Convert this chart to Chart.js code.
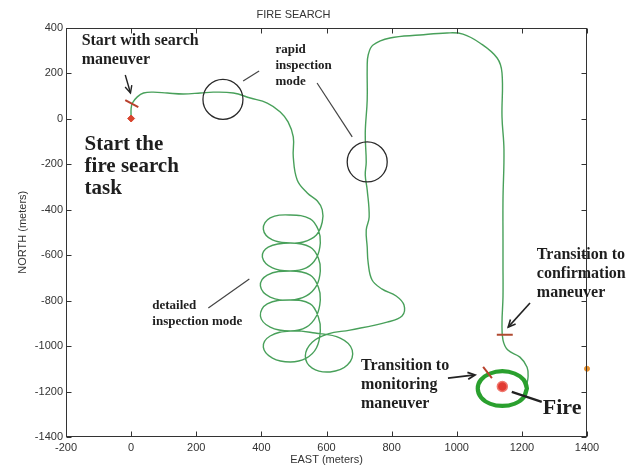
<!DOCTYPE html>
<html>
<head>
<meta charset="utf-8">
<script src="https://cdn.jsdelivr.net/npm/chart.js@4/dist/chart.umd.min.js"></script>
<style>
  html, body { margin: 0; padding: 0; background: #fff; }
  #wrap { width: 641px; height: 468px; }
</style>
</head>
<body>
<div id="wrap"><canvas id="c" width="641" height="468"></canvas></div>
<script>
// Axis ticks (meters)
const eastTicks  = [-200, 0, 200, 400, 600, 800, 1000, 1200, 1400];
const northTicks = [-1400, -1200, -1000, -800, -600, -400, -200, 0, 200, 400];

// Flight track: start, search leg, detailed-inspection loops, long search leg, confirmation approach
const pathEast = [
  0, 0, 4, 19, 38, 68, 111, 160, 213, 252, 314, 366, 418, 458, 482, 498, 498, 510, 541, 572, 587, 587, 569,
  529, 489, 434, 406, 427, 489,
  550, 575, 581, 569, 538, 489, 434, 403, 421,
  489, 550, 575, 581, 569, 538, 489, 427, 397, 418,
  489, 550, 575, 581, 569, 538, 489, 427, 397, 418,
  489, 550, 575, 581, 569, 538, 489, 434, 406, 427,
  489, 565, 642, 679, 664, 611, 556, 535, 556, 605, 672, 786, 832, 838, 814, 771, 740,
  728, 725, 722, 731, 725, 719, 722, 719, 725, 725, 728, 743, 795, 887, 970, 1019, 1071, 1124, 1139, 1139,
  1145, 1142, 1142, 1142, 1142, 1139, 1142, 1157, 1194, 1216, 1219, 1213
];
const pathNorth = [
  0, 45, 68, 95, 112, 116, 112, 108, 112, 116, 112, 90, 68, 29, -15, -81, -169, -270, -327, -363, -402, -455, -512,
  -543, -547, -534, -486, -437, -424,
  -441, -490, -547, -613, -657, -670, -657, -609, -565,
  -547, -565, -613, -670, -736, -780, -798, -785, -736, -688,
  -670, -688, -741, -798, -868, -917, -934, -917, -868, -815,
  -798, -815, -873, -934, -1009, -1053, -1070, -1053, -1005, -956,
  -934, -943, -965, -1018, -1084, -1114, -1097, -1044, -983, -947, -930, -895, -868, -820, -780, -750, -710,
  -635, -565, -490, -433, -314, -248, -191, -64, 81, 226, 279, 323, 354, 367, 376, 371, 332, 266, 200, 7,
  -138, -358, -534, -635, -785, -899, -974, -1018, -1049, -1093, -1136, -1180
];

// Monitoring orbit around the fire (two laps)
const orbitEast = [
  1218, 1208, 1179, 1140, 1101, 1072, 1062, 1072, 1101, 1140, 1179, 1208, 1218,
  1213, 1203, 1176, 1140, 1104, 1077, 1067, 1077, 1104, 1140, 1176, 1203, 1213
];
const orbitNorth = [
  -1187, -1227, -1256, -1267, -1256, -1227, -1187, -1147, -1118, -1107, -1118, -1147, -1187,
  -1187, -1224, -1251, -1260, -1251, -1224, -1187, -1150, -1123, -1114, -1123, -1150, -1187
];

// Rapid-inspection circles (centres)
const rapidEast  = [282, 725];
const rapidNorth = [84, -191];

// Maneuver transition marks (two ends each)
const startMarkEast    = [-18, 22];
const startMarkNorth   = [81, 50];
const confirmMarkEast  = [1123, 1172];
const confirmMarkNorth = [-951, -951];
const monitorMarkEast  = [1081, 1108];
const monitorMarkNorth = [-1092, -1141];

// Points of interest
const startPoint = [0, 0];
const firePoint  = [1140, -1178];
const edgePoint  = [1400, -1100];

const zip = (xs, ys) => xs.map((v, i) => ({ x: v, y: ys[i] }));

// Callouts: leader lines / arrows and labels, placed in map coordinates
const callouts = [
  { from: [-18, 191],  to: [-2, 112],     arrow: true,  width: 1.4, color: '#222' },
  { from: [344, 165],  to: [393, 209],    arrow: false, width: 1.2, color: '#444' },
  { from: [571, 156],  to: [679, -81],    arrow: false, width: 1.2, color: '#444' },
  { from: [237, -833], to: [363, -706],   arrow: false, width: 1.2, color: '#444' },
  { from: [1225, -811], to: [1158, -917], arrow: true,  width: 1.6, color: '#222' },
  { from: [973, -1141], to: [1056, -1127], arrow: true, width: 1.8, color: '#222' },
  { from: [1169, -1202], to: [1261, -1246], arrow: false, width: 2.4, color: '#222' }
];
const labels = [
  { lines: ['Start with search', 'maneuver'], at: [-152, 341], size: 16, gap: 19 },
  { lines: ['Start the', 'fire search', 'task'], at: [-143, -116], size: 21, gap: 22 },
  { lines: ['rapid', 'inspection', 'mode'], at: [443, 301], size: 13, gap: 16 },
  { lines: ['detailed', 'inspection mode'], at: [65, -824], size: 13, gap: 16 },
  { lines: ['Transition to', 'confirmation', 'maneuver'], at: [1246, -600], size: 16, gap: 19 },
  { lines: ['Transition to', 'monitoring', 'maneuver'], at: [706, -1088], size: 16, gap: 19 },
  { lines: ['Fire'], at: [1264, -1273], size: 22, gap: 22 }
];

const frameAndCallouts = {
  id: 'frameAndCallouts',
  afterDatasetsDraw(chart) {
    const { ctx, chartArea: a, scales: { x, y } } = chart;
    const P = (e, n) => [x.getPixelForValue(e), y.getPixelForValue(n)];
    ctx.save();

    // plot box with inward ticks on all four sides
    ctx.strokeStyle = '#333';
    ctx.lineWidth = 1;
    const L = Math.round(a.left) + 0.5, R = Math.round(a.right) - 0.5;
    const T = Math.round(a.top) + 0.5, B = Math.round(a.bottom) - 0.5;
    ctx.strokeRect(L, T, R - L, B - T);
    ctx.beginPath();
    eastTicks.forEach(v => {
      const p = Math.round(x.getPixelForValue(v)) + 0.5;
      ctx.moveTo(p, B); ctx.lineTo(p, B - 5);
      ctx.moveTo(p, T); ctx.lineTo(p, T + 5);
    });
    northTicks.forEach(v => {
      const p = Math.round(y.getPixelForValue(v)) + 0.5;
      ctx.moveTo(L, p); ctx.lineTo(L + 5, p);
      ctx.moveTo(R, p); ctx.lineTo(R - 5, p);
    });
    ctx.stroke();

    // leader lines and arrows
    callouts.forEach(c => {
      const [x1, y1] = P(...c.from), [x2, y2] = P(...c.to);
      ctx.strokeStyle = c.color; ctx.fillStyle = c.color; ctx.lineWidth = c.width;
      ctx.beginPath(); ctx.moveTo(x1, y1); ctx.lineTo(x2, y2); ctx.stroke();
      if (c.arrow) {
        const ang = Math.atan2(y2 - y1, x2 - x1), len = 8, half = 0.45;
        ctx.beginPath();
        ctx.moveTo(x2 - len * Math.cos(ang - half), y2 - len * Math.sin(ang - half));
        ctx.lineTo(x2, y2);
        ctx.lineTo(x2 - len * Math.cos(ang + half), y2 - len * Math.sin(ang + half));
        ctx.stroke();
      }
    });

    // labels
    ctx.fillStyle = '#1e1e1e';
    ctx.textBaseline = 'middle';
    ctx.textAlign = 'left';
    labels.forEach(l => {
      const [lx, ly] = P(...l.at);
      ctx.font = 'bold ' + l.size + 'px "Liberation Serif", "Times New Roman", serif';
      l.lines.forEach((t, i) => ctx.fillText(t, lx, ly + i * l.gap));
    });
    ctx.restore();
  }
};

Chart.defaults.font.family = '"Liberation Sans", Arial, sans-serif';

new Chart(document.getElementById('c'), {
  type: 'line',
  data: {
    datasets: [
      { data: [{ x: edgePoint[0], y: edgePoint[1] }], showLine: false, pointRadius: 2.5,
        pointBackgroundColor: '#e8902a', pointBorderColor: '#e8902a', clip: false },
      { data: [{ x: firePoint[0], y: firePoint[1] }], showLine: false, pointRadius: 5,
        pointBackgroundColor: '#e23a32', pointBorderColor: '#f07a70', pointBorderWidth: 1.5 },
      { data: [{ x: startPoint[0], y: startPoint[1] }], showLine: false, pointRadius: 3.5, pointStyle: 'rectRot',
        pointBackgroundColor: '#d8452e', pointBorderColor: '#d8452e' },
      { data: zip(startMarkEast, startMarkNorth), borderColor: '#b8402c', borderWidth: 2, pointRadius: 0 },
      { data: zip(confirmMarkEast, confirmMarkNorth), borderColor: '#b04a30', borderWidth: 2, pointRadius: 0 },
      { data: zip(monitorMarkEast, monitorMarkNorth), borderColor: '#b8402c', borderWidth: 2, pointRadius: 0 },
      { data: zip(rapidEast, rapidNorth), showLine: false, pointRadius: 20, pointStyle: 'circle',
        pointBackgroundColor: 'rgba(0,0,0,0)', pointBorderColor: '#2a2a2a', pointBorderWidth: 1.3 },
      { data: zip(orbitEast, orbitNorth), borderColor: '#2aa02e', borderWidth: 2.6, pointRadius: 0, tension: 0.4 },
      { data: zip(pathEast, pathNorth), borderColor: 'rgba(52,150,72,0.9)', borderWidth: 1.4, pointRadius: 0, tension: 0.4 }
    ]
  },
  options: {
    responsive: false,
    devicePixelRatio: 1,
    animation: false,
    events: [],
    layout: { padding: { left: 0, right: 54, top: 0, bottom: 0 } },
    plugins: {
      legend: { display: false },
      tooltip: { enabled: false },
      title: {
        display: true, text: 'FIRE SEARCH', color: '#333',
        font: { size: 11, weight: 'normal', lineHeight: 1.2 },
        padding: { top: 8, bottom: 6.3 }
      }
    },
    scales: {
      x: {
        type: 'linear', min: -200, max: 1400,
        afterBuildTicks: s => { s.ticks = eastTicks.map(v => ({ value: v })); },
        afterFit: s => { s.height = 31; },
        ticks: { color: '#333', font: { size: 11 }, padding: 4, maxRotation: 0, autoSkip: false,
                 callback: v => String(v) },
        grid: { display: false, drawTicks: false },
        border: { display: false },
        title: { display: true, text: 'EAST (meters)', color: '#333', font: { size: 11, lineHeight: 1.2 },
                 padding: { top: 0, bottom: 1.5 } }
      },
      y: {
        type: 'linear', min: -1400, max: 400,
        afterBuildTicks: s => { s.ticks = northTicks.map(v => ({ value: v })); },
        afterFit: s => { s.width = 66; },
        ticks: { color: '#333', font: { size: 11 }, padding: 3, autoSkip: false,
                 callback: v => String(v) },
        grid: { display: false, drawTicks: false },
        border: { display: false },
        title: { display: true, text: 'NORTH (meters)', color: '#333', font: { size: 11, lineHeight: 1.2 },
                 padding: { top: 16, bottom: 0 } }
      }
    }
  },
  plugins: [frameAndCallouts]
});
</script>
</body>
</html>
